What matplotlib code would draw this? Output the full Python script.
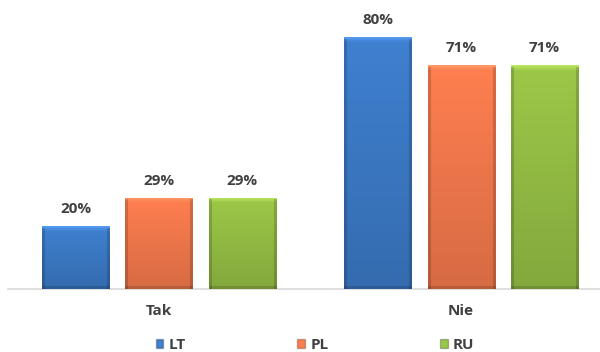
import numpy as np
import matplotlib.pyplot as plt
from matplotlib.colors import to_rgb
from matplotlib.patches import Patch

categories = ["Tak", "Nie"]
series = ["LT", "PL", "RU"]
values = {
    "LT": [20, 80],
    "PL": [29, 71],
    "RU": [29, 71],
}
colors = {"LT": "#3f80d0", "PL": "#ff7f50", "RU": "#9cc848"}

plt.rcParams["font.family"] = ["Open Sans", "DejaVu Sans"]

fig = plt.figure(figsize=(6.0, 3.52), dpi=100)
ax = fig.add_axes([8 / 600, 63 / 352, 592 / 600, 283.5 / 352])

x = np.arange(len(categories))
width = 0.222
step = 0.276


def bevel_image(color, w_px, h_px, bevel=5):
    # vertical darkening, soft light top edge, darker sides and bottom
    base = np.array(to_rgb(color))
    h_px = max(int(h_px), bevel * 2 + 1)
    yy, xx = np.mgrid[0:h_px, 0:w_px]
    shade = 1.0 - 0.16 * (yy / h_px)
    img = np.ones((h_px, w_px, 3)) * base
    img *= shade[..., None]
    light = np.clip(base * 1.1 + 0.08, 0, 1)
    for r in range(bevel):
        t = 1 - r / bevel
        row = img[r]
        img[r] = row * (1 - 0.8 * t) + light * 0.8 * t
    side = ((xx < 3) | (xx >= w_px - 3)) & (yy >= 2)
    img[side] *= 0.84
    bottom = yy >= h_px - 3
    img[bottom] *= 0.86
    return np.clip(img, 0, 1)


px_per_x = 302
px_per_y = 3.15
for i, s in enumerate(series):
    bars = ax.bar(x + (i - 1) * step, values[s], width, color=colors[s],
                  edgecolor="none", zorder=2)
    for b, v in zip(bars, values[s]):
        bx, by = b.get_xy()
        img = bevel_image(colors[s], int(width * px_per_x), v * px_per_y)
        im = ax.imshow(img, extent=(bx, bx + b.get_width(), 0, v),
                       aspect="auto", zorder=3, interpolation="bilinear")
        im.set_clip_path(b)
        ax.text(b.get_x() + b.get_width() / 2, v + 5.4, f"{v}%",
                ha="center", va="center", fontsize=11, fontweight="bold",
                color="#404040")

ax.set_xlim(-0.5, 1.46)
ax.set_ylim(0, 90)
for sp in ["top", "right", "left"]:
    ax.spines[sp].set_visible(False)
ax.spines["bottom"].set_color("#d9d9d9")
ax.spines["bottom"].set_linewidth(1.2)
ax.set_yticks([])
ax.set_xticks(x)
ax.set_xticklabels(categories)
for lab in ax.get_xticklabels():
    lab.set_fontsize(11)
    lab.set_fontweight("bold")
    lab.set_color("#404040")
ax.tick_params(axis="x", length=0, pad=11)

handles = [Patch(facecolor=colors[s], edgecolor="#00000040", label=s) for s in series]
fig.legend(handles=handles, loc="center", bbox_to_anchor=(0.525, 7 / 352),
           ncol=3, frameon=False, handlelength=0.5, handleheight=0.5,
           handletextpad=0.35, columnspacing=7.3,
           prop={"size": 11, "weight": "bold"}, labelcolor="#404040")

fig.savefig("out.png", dpi=100)
